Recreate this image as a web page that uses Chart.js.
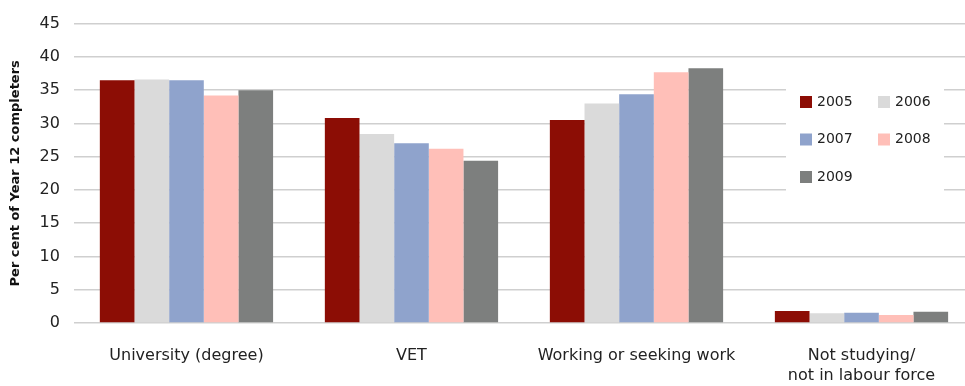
<!DOCTYPE html>
<html lang="en">
<head>
<meta charset="UTF-8">
<title>Year 12 completers</title>
<script src="https://cdn.jsdelivr.net/npm/chart.js"></script>
<style>
body { margin: 0; background: #fff; }
#wrap { width: 965px; height: 386px; overflow: hidden; }
</style>
</head>
<body>
<div id="wrap"><canvas id="chart" width="974" height="386"></canvas></div>
<script>
// data
const categories = ["University (degree)", "VET", "Working or seeking work", ["Not studying/", "not in labour force"]];
const years = ["2005", "2006", "2007", "2008", "2009"];
const v2005 = [36.5, 30.8, 30.5, 1.8];
const v2006 = [36.6, 28.4, 33.0, 1.45];
const v2007 = [36.5, 27.0, 34.4, 1.55];
const v2008 = [34.2, 26.2, 37.7, 1.2];
const v2009 = [35.0, 24.4, 38.3, 1.7];
const colours = ["#8c0d05", "#dadada", "#8fa3cc", "#ffbfb8", "#7d7f7e"];

const series = [v2005, v2006, v2007, v2008, v2009];

// legend box sitting on top of the plot, two columns
const boxLegend = {
    id: "boxLegend",
    afterDraw(chart) {
        const ctx = chart.ctx;
        ctx.save();
        ctx.fillStyle = "#fff";
        ctx.fillRect(786, 78, 158, 118);
        ctx.font = "14px 'DejaVu Sans', Verdana, sans-serif";
        ctx.textBaseline = "middle";
        years.forEach((y, i) => {
            const col = i % 2, row = Math.floor(i / 2);
            const x = 800 + col * 78;
            const yy = 102 + row * 37.5;
            ctx.fillStyle = colours[i];
            ctx.fillRect(x, yy - 6, 12, 12);
            ctx.fillStyle = "#222";
            ctx.fillText(y, x + 17, yy);
        });
        ctx.restore();
    }
};

new Chart(document.getElementById("chart"), {
    type: "bar",
    data: {
        labels: categories,
        datasets: series.map((d, i) => ({
            label: years[i],
            data: d,
            backgroundColor: colours[i],
            categoryPercentage: 0.77,
            barPercentage: 1.0
        }))
    },
    options: {
        responsive: false,
        animation: false,
        layout: { padding: { left: 8, right: 0, top: 9, bottom: 0 } },
        plugins: {
            legend: { display: false },
            tooltip: { enabled: false }
        },
        scales: {
            x: {
                grid: { display: false },
                border: { display: false },
                afterFit(scale) { scale.height = 63; },
                ticks: {
                    color: "#222",
                    font: { family: "'DejaVu Sans', Verdana, sans-serif", size: 16, lineHeight: 1.3 },
                    maxRotation: 0,
                    autoSkip: false,
                    padding: 14
                }
            },
            y: {
                min: 0,
                max: 45,
                ticks: {
                    stepSize: 5,
                    color: "#222",
                    font: { family: "'DejaVu Sans', Verdana, sans-serif", size: 16 },
                    padding: 14
                },
                grid: { color: "#cfcfcf", lineWidth: 1.5, drawTicks: false },
                border: { display: false },
                title: {
                    display: true,
                    text: "Per cent of Year 12 completers",
                    color: "#111",
                    font: { family: "'DejaVu Sans', Verdana, sans-serif", size: 13, weight: "bold" },
                    padding: { top: 0, bottom: 2 }
                }
            }
        }
    },
    plugins: [boxLegend]
});
</script>
</body>
</html>
